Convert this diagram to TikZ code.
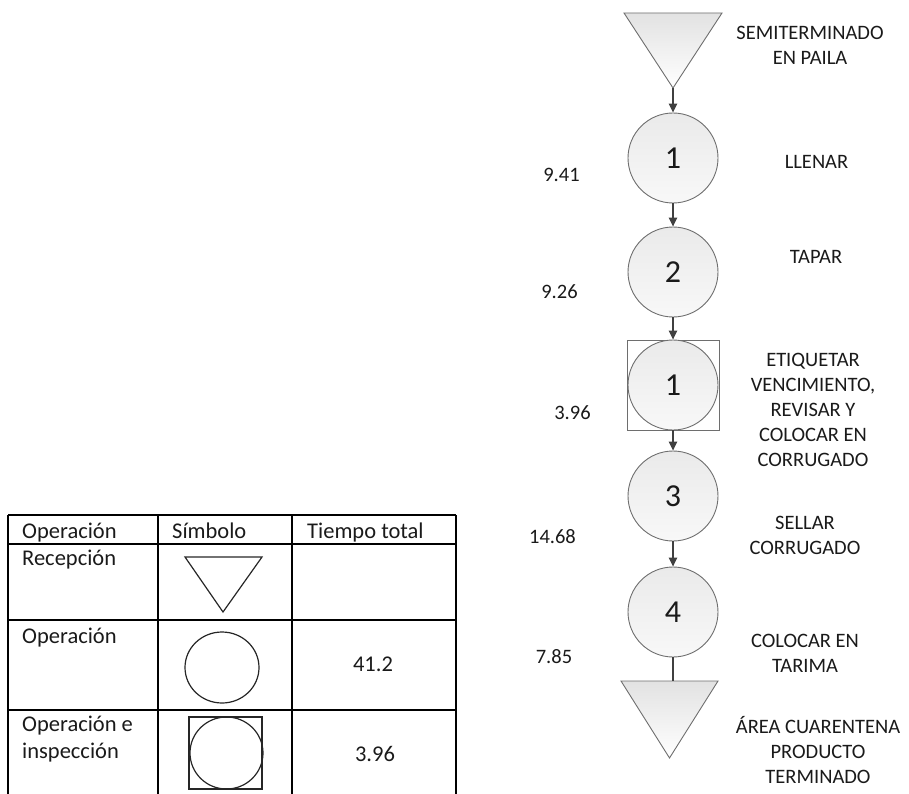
\documentclass[tikz,border=0pt]{standalone}
\usepackage{fontspec}
\setmainfont{Carlito}
\usetikzlibrary{arrows.meta}

\definecolor{shapeline}{HTML}{6E6E6E}
\definecolor{arrowgray}{HTML}{404040}
\definecolor{ink}{HTML}{1A1A1A}
\definecolor{fillhi}{HTML}{EAEAEA}
\definecolor{filllo}{HTML}{F8F8F8}
\definecolor{trihi}{HTML}{E2E2E2}

\tikzset{
  opcircle/.style={circle, draw=shapeline, line width=0.9pt,
    top color=fillhi, bottom color=filllo, minimum size=90pt, inner sep=0pt,
    font=\fontsize{32}{38}\selectfont, text=ink},
  inspbox/.style={draw=shapeline, line width=0.9pt, fill=white,
    minimum width=92pt, minimum height=90pt, inner sep=0pt},
  storetri/.style={draw=shapeline, line width=0.9pt, top color=trihi, bottom color=white},
  flow/.style={draw=arrowgray, line width=1.3pt, -{Triangle[length=9pt,width=8.5pt]}},
  flowplain/.style={draw=arrowgray, line width=1.3pt},
  steplabel/.style={font=\fontsize{20.5}{25}\selectfont, text=ink, align=center, inner sep=0pt},
  timelabel/.style={font=\fontsize{20.5}{25}\selectfont, text=ink, inner sep=0pt},
  tabrule/.style={draw=black, line width=1.2pt},
  tabsym/.style={draw=black!85, line width=1.2pt},
  tabtext/.style={font=\fontsize{22.5}{27}\selectfont, text=ink, anchor=base west, inner sep=0pt},
  tabnum/.style={font=\fontsize{22.5}{27}\selectfont, text=ink, anchor=base, inner sep=0pt}
}

\begin{document}
\begin{tikzpicture}[x=1pt,y=-1pt]
\useasboundingbox (0,0) rectangle (909,794);

% ---- process chart ----
% incoming storage triangle
\path[storetri] (624,13) -- (722,13) -- (673,88) -- cycle;
\coordinate (tin) at (673,88);

\node[opcircle] (op1) at (673,158) {1};
\node[opcircle] (op2) at (673,272) {2};
\node[inspbox]  (sq)  at (673,385) {};
\node[opcircle] (ins1) at (673,385) {1};
\node[opcircle] (op3) at (673,496) {3};
\node[opcircle] (op4) at (673,612) {4};

% outgoing storage triangle
\path[storetri] (621,681) -- (718,681) -- (669.5,758) -- cycle;
\coordinate (tout) at (673,681);

% connectors
\draw[flow] (tin) -- (op1.north);
\draw[flow] (op1.south) -- (op2.north);
\draw[flow] (op2.south) -- (sq.north);
\draw[flow] (sq.south) -- (op3.north);
\draw[flow] (op3.south) -- (op4.north);
\draw[flowplain] (op4.south) -- (tout);

% step descriptions
\node[steplabel] (d0) at (810,45.5) {SEMITERMINADO\\EN PAILA};
\node[steplabel] (d1) at (816.5,162) {LLENAR};
\node[steplabel] (d2) at (816,257) {TAPAR};
\node[steplabel] (d3) at (813,410) {ETIQUETAR\\VENCIMIENTO,\\REVISAR Y\\COLOCAR EN\\CORRUGADO};
\node[steplabel] (d4) at (805,535.5) {SELLAR\\CORRUGADO};
\node[steplabel] (d5) at (805,653.5) {COLOCAR EN\\TARIMA};
\node[steplabel] (d6) at (818,750) {ÁREA CUARENTENA\\PRODUCTO\\TERMINADO};

% step times
\node[timelabel] (t1) at (561.5,175) {9.41};
\node[timelabel] (t2) at (559.5,292) {9.26};
\node[timelabel] (t3) at (572.5,413) {3.96};
\node[timelabel] (t4) at (552.5,537) {14.68};
\node[timelabel] (t5) at (554,657) {7.85};

% ---- summary table ----
\draw[tabrule] (8,515) -- (456,515);
\draw[tabrule] (8,544) -- (456,544);
\draw[tabrule] (8,620) -- (456,620);
\draw[tabrule] (8,710) -- (456,710);
\foreach \cx in {8,158,292,456}
  \draw[tabrule] (\cx,515) -- (\cx,794);

\node[tabtext] (h1) at (22,538) {Operación};
\node[tabtext] (h2) at (172,538) {Símbolo};
\node[tabtext] (h3) at (307,538) {Tiempo total};

\node[tabtext] (r1) at (22,565) {Recepción};
\node[tabtext] (r2) at (22,643) {Operación};
\node[tabtext, align=left, anchor=north west] (r3) at (22,716) {Operación e\\inspección};

\node[tabnum] (n2) at (373,671) {41.2};
\node[tabnum] (n3) at (375,761) {3.96};

% symbols in the table
\draw[tabsym] (185,557) -- (262,557) -- (223,612) -- cycle;
\draw[tabsym] (222,667.5) ellipse [x radius=37, y radius=35.5];
\draw[tabsym] (189,717) rectangle (262,789);
\draw[tabsym] (226.5,753) ellipse [x radius=36.5, y radius=36];
\end{tikzpicture}
\end{document}
